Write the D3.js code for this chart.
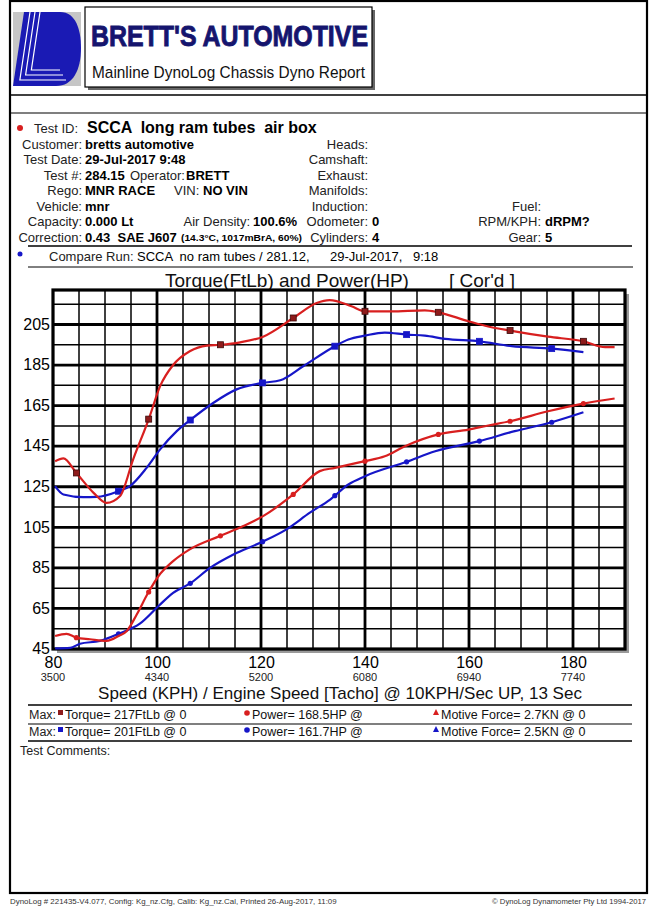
<!DOCTYPE html>
<html>
<head>
<meta charset="utf-8">
<script src="https://cdn.jsdelivr.net/npm/d3@7"></script>
<style>
    body { margin: 0; background: #fff; }
    svg { display: block; font-family: 'Liberation Sans', Arial, sans-serif; }
    text { white-space: pre; }
    .lbl { fill: #222; font-size: 13px; }
    .val { fill: #000; font-size: 13px; font-weight: bold; }
</style>
</head>
<body>
<div id="chart"></div>
<script>
// axis ticks
const kphTicks = [80, 100, 120, 140, 160, 180];
const rpmTicks = ['3500', '4340', '5200', '6080', '6940', '7740'];
const yTicks = [45, 65, 85, 105, 125, 145, 165, 185, 205];

// test run (red) - torque
const runTorqueKph = [80.4, 82, 84.5, 87.8, 90.3, 92.9, 95.4, 98.5, 100.6, 103.1, 106.3, 109.6, 112.2, 116, 120.4, 126.2, 130.7, 133.2, 137.4, 140, 145, 151.5, 154.1, 159.9, 163.7, 167.9, 175.2, 182, 186.2, 188];
const runTorque = [137.6, 139, 131.8, 122, 117, 120.4, 138.4, 159, 174.6, 185, 191.8, 194.6, 195, 196.2, 199, 208.2, 215.6, 217, 214, 211.5, 211.5, 212, 211, 206.6, 204, 202, 199, 196.7, 193.8, 193.8];

// test run (red) - power
const runPowerKph = [80.4, 82.6, 84.5, 87.1, 90.3, 92.6, 94.2, 96.1, 98.3, 100.3, 103.1, 106.3, 112.1, 116.6, 120.4, 126.2, 131.3, 134.2, 140, 143.8, 147.7, 154.1, 159.9, 163.7, 167.9, 175.2, 182, 188];
const runPower = [51.4, 52.5, 50.6, 49.8, 49, 51.4, 53.9, 62, 72.7, 81, 88.3, 94.1, 100.7, 105.6, 110.5, 121.2, 132.7, 134.3, 137.6, 140, 145, 150.8, 153.2, 155.2, 157.3, 162.2, 166, 168.5];

// compare run (blue) - torque
const cmpTorqueKph = [80.4, 82, 85.8, 88.4, 92.6, 94.8, 98, 100.6, 103.8, 106.3, 110.8, 115.3, 120.3, 123.7, 128.1, 134.2, 136.8, 140, 143.8, 148, 151.5, 155.4, 162, 168.2, 175.9, 182];
const cmpTorque = [125.3, 121.2, 119.9, 120, 122.8, 125.3, 134.3, 143.4, 152.4, 157.7, 166.3, 173, 176.2, 177.5, 184.4, 194.3, 197.6, 199.5, 201, 200, 199.5, 197.9, 196.7, 194.3, 193.1, 191.4];

// compare run (blue) - power
const cmpPowerKph = [80.4, 83.3, 85.2, 89, 92.6, 96.7, 100.3, 103.1, 106.3, 110.2, 114.7, 120.3, 124.9, 129.4, 133.3, 136.8, 140, 148, 153.5, 162, 168.8, 175.9, 182];
const cmpPower = [45.3, 45.6, 47.6, 49, 52.5, 57.5, 66.2, 72.7, 77.2, 85, 91.6, 97.9, 104, 112.2, 118.7, 126.1, 130.2, 137.3, 142.5, 147.5, 152.4, 156.8, 161.7];

// marker speeds
const runMarkerKph = [84.5, 98.4, 112.2, 126.2, 140, 154.1, 167.9, 182];
const cmpMarkerKph = [92.6, 106.4, 120.3, 134.2, 148, 162, 175.9];

const W = 654, H = 909;
const red = '#d81f1f', darkRed = '#8e1b1b', blue = '#1616c8';

let svg = d3.select('#chart').append('svg')
    .attr('width', W)
    .attr('height', H);

svg.append('rect').attr('width', W).attr('height', H).attr('fill', '#fff');

function txt(x, y, s, cls, anchor) {
    return svg.append('text')
        .attr('x', x).attr('y', y)
        .attr('class', cls || 'lbl')
        .attr('text-anchor', anchor || 'start')
        .attr('xml:space', 'preserve')
        .text(s);
}
function hline(y, x1, x2, w) {
    svg.append('line')
        .attr('x1', x1).attr('x2', x2).attr('y1', y).attr('y2', y)
        .attr('stroke', '#000').attr('stroke-width', w);
}

// outer frame
svg.append('rect')
    .attr('x', 10).attr('y', 1).attr('width', 637).attr('height', 892)
    .attr('fill', 'none').attr('stroke', '#000').attr('stroke-width', 2.2);
hline(95, 10, 647, 1.6);
hline(113, 10, 647, 1.2);

// logo
svg.append('rect').attr('x', 13).attr('y', 12).attr('width', 68).attr('height', 74).attr('fill', '#c6c6c6');
svg.append('path')
    .attr('d', 'M24,12 L60,12 C76,12 81,30 81,48 C81,70 73,86 56,86 L13,86 Z')
    .attr('fill', '#1a1ab4');
[0, 1, 2].forEach(function(i) {
    let x0 = 30 + i * 5, y1 = 80 - i * 5;
    let x1 = x0 - 0.149 * (y1 - 12);
    svg.append('path')
        .attr('d', 'M' + x0 + ',12 L' + x1 + ',' + y1 + ' L' + (66 - i * 3) + ',' + y1)
        .attr('fill', 'none').attr('stroke', '#fff').attr('stroke-width', 1.2);
});

// title box
svg.append('rect').attr('x', 88).attr('y', 10).attr('width', 287).attr('height', 80).attr('fill', '#666');
svg.append('rect').attr('x', 85).attr('y', 7).attr('width', 287).attr('height', 80)
    .attr('fill', '#fff').attr('stroke', '#000').attr('stroke-width', 1.2);
svg.append('text')
    .attr('x', 91).attr('y', 46)
    .attr('textLength', 277).attr('lengthAdjust', 'spacingAndGlyphs')
    .style('font-size', '30px').style('font-weight', 'bold').style('fill', '#15156e')
    .style('stroke', '#15156e').style('stroke-width', 0.9)
    .text("BRETT'S AUTOMOTIVE");
svg.append('text')
    .attr('x', 92).attr('y', 78)
    .attr('textLength', 273).attr('lengthAdjust', 'spacingAndGlyphs')
    .style('font-size', '17px').style('fill', '#111')
    .text('Mainline DynoLog Chassis Dyno Report');

// test info
svg.append('circle').attr('cx', 20).attr('cy', 128).attr('r', 3).attr('fill', red);
txt(34, 133, 'Test ID:');
txt(87, 133, 'SCCA  long ram tubes  air box', 'val').style('font-size', '16px');

let rowY = function(i) { return 148.5 + i * 15.5; };
let leftLabels = ['Customer:', 'Test Date:', 'Test #:', 'Rego:', 'Vehicle:', 'Capacity:', 'Correction:'];
let leftValues = ['bretts automotive', '29-Jul-2017 9:48', '284.15', 'MNR RACE', 'mnr', '0.000 Lt', '0.43  SAE J607'];
leftLabels.forEach(function(s, i) { txt(82, rowY(i), s, 'lbl', 'end'); });
leftValues.forEach(function(s, i) { txt(85, rowY(i), s, 'val'); });
txt(130, rowY(2), 'Operator:');
txt(186, rowY(2), 'BRETT', 'val');
txt(174, rowY(3), 'VIN:');
txt(203, rowY(3), 'NO VIN', 'val');
txt(250, rowY(5), 'Air Density:', 'lbl', 'end');
txt(253, rowY(5), '100.6%', 'val');
txt(181, rowY(6) - 1, '(14.3\u00B0C, 1017mBrA, 60%)', 'val')
    .attr('textLength', 121).attr('lengthAdjust', 'spacingAndGlyphs')
    .style('font-size', '8.5px');

let midLabels = ['Heads:', 'Camshaft:', 'Exhaust:', 'Manifolds:', 'Induction:', 'Odometer:', 'Cylinders:'];
let midValues = ['', '', '', '', '', '0', '4'];
midLabels.forEach(function(s, i) { txt(368, rowY(i), s, 'lbl', 'end'); });
midValues.forEach(function(s, i) { txt(372, rowY(i), s, 'val'); });

txt(541, rowY(4), 'Fuel:', 'lbl', 'end');
txt(541, rowY(5), 'RPM/KPH:', 'lbl', 'end');
txt(545, rowY(5), 'dRPM?', 'val');
txt(541, rowY(6), 'Gear:', 'lbl', 'end');
txt(545, rowY(6), '5', 'val');

hline(246, 28, 632, 1.6);
svg.append('circle').attr('cx', 20).attr('cy', 254).attr('r', 2.5).attr('fill', blue);
txt(49, 261, 'Compare Run:');
txt(137, 261, 'SCCA  no ram tubes / 281.12,', 'lbl').style('fill', '#000');
txt(330, 261, '29-Jul-2017,', 'lbl').style('fill', '#000');
txt(413, 261, '9:18', 'lbl').style('fill', '#000');
hline(267, 28, 633, 1);

// chart title
svg.append('text').attr('x', 165).attr('y', 287).style('font-size', '19px').style('fill', '#111')
    .text('Torque(FtLb) and Power(HP)');
svg.append('text').attr('x', 449).attr('y', 287).style('font-size', '19px').style('fill', '#111')
    .text("[ Cor'd ]");

// plot
let plot = {left: 53, top: 290, right: 625, bottom: 649};
let x = d3.scaleLinear().domain([80, 190]).range([plot.left, plot.right]);
let y = d3.scaleLinear().domain([45, 222]).range([plot.bottom, plot.top]);

svg.append('rect')
    .attr('x', plot.left + 4).attr('y', plot.top + 4)
    .attr('width', plot.right - plot.left).attr('height', plot.bottom - plot.top)
    .attr('fill', '#9a9a9a');
svg.append('rect')
    .attr('x', plot.left).attr('y', plot.top)
    .attr('width', plot.right - plot.left).attr('height', plot.bottom - plot.top)
    .attr('fill', '#fff');

let grid = svg.append('g');
grid.selectAll('line.v')
    .data(d3.range(85, 190, 5))
    .enter().append('line')
    .attr('x1', function(d) { return x(d); }).attr('x2', function(d) { return x(d); })
    .attr('y1', plot.top).attr('y2', plot.bottom)
    .attr('stroke', '#000')
    .attr('stroke-width', function(d) { return kphTicks.indexOf(d) >= 0 ? 2.8 : 1.5; });
grid.selectAll('line.h')
    .data(d3.range(55, 222, 10))
    .enter().append('line')
    .attr('y1', function(d) { return y(d); }).attr('y2', function(d) { return y(d); })
    .attr('x1', plot.left).attr('x2', plot.right)
    .attr('stroke', '#000')
    .attr('stroke-width', function(d) { return yTicks.indexOf(d) >= 0 ? 2.8 : 1.5; });

svg.append('rect')
    .attr('x', plot.left).attr('y', plot.top)
    .attr('width', plot.right - plot.left).attr('height', plot.bottom - plot.top)
    .attr('fill', 'none').attr('stroke', '#000').attr('stroke-width', 3.2);

// axes labels
let yAxis = svg.append('g')
    .attr('transform', 'translate(' + (plot.left - 3) + ',0)')
    .call(d3.axisLeft(y).tickValues(yTicks).tickSize(0).tickPadding(0));
yAxis.select('.domain').remove();
yAxis.selectAll('text').style('font-size', '16px').style('font-family', 'Liberation Sans, Arial, sans-serif')
    .style('fill', '#000').attr('dy', '0.3em');

let xAxis = svg.append('g')
    .attr('transform', 'translate(0,' + (plot.bottom + 8) + ')')
    .call(d3.axisBottom(x).tickValues(kphTicks).tickSize(0).tickPadding(0));
xAxis.select('.domain').remove();
xAxis.selectAll('text').style('font-size', '16px').style('font-family', 'Liberation Sans, Arial, sans-serif')
    .style('fill', '#000');

svg.selectAll('text.rpm')
    .data(rpmTicks)
    .enter().append('text')
    .attr('class', 'rpm')
    .attr('x', function(d, i) { return x(kphTicks[i]); })
    .attr('y', 681)
    .attr('text-anchor', 'middle')
    .style('font-size', '11px').style('fill', '#222')
    .text(function(d) { return d; });

svg.append('text').attr('x', 340).attr('y', 699).attr('text-anchor', 'middle')
    .style('font-size', '17px').style('fill', '#111')
    .text('Speed (KPH) / Engine Speed [Tacho] @ 10KPH/Sec UP, 13 Sec');

// curves
let line = d3.line()
    .curve(d3.curveMonotoneX)
    .x(function(d) { return x(d[0]); })
    .y(function(d) { return y(d[1]); });

function pairs(ks, vs) { return ks.map(function(k, i) { return [k, vs[i]]; }); }
function valueAt(ks, vs, k) {
    let i = d3.bisectLeft(ks, k);
    if (i <= 0) return vs[0];
    if (i >= ks.length) return vs[vs.length - 1];
    let t = (k - ks[i - 1]) / (ks[i] - ks[i - 1]);
    return vs[i - 1] + t * (vs[i] - vs[i - 1]);
}

let series = [
    {k: cmpPowerKph, v: cmpPower, color: blue, markers: cmpMarkerKph, shape: 'dot', fill: blue},
    {k: cmpTorqueKph, v: cmpTorque, color: blue, markers: cmpMarkerKph, shape: 'square', fill: blue},
    {k: runPowerKph, v: runPower, color: red, markers: runMarkerKph, shape: 'dot', fill: red},
    {k: runTorqueKph, v: runTorque, color: red, markers: runMarkerKph, shape: 'square', fill: darkRed}
];

series.forEach(function(s) {
    svg.append('path')
        .datum(pairs(s.k, s.v))
        .attr('d', line)
        .attr('fill', 'none')
        .attr('stroke', s.color)
        .attr('stroke-width', 2.2);

    let pts = s.markers.map(function(k) { return [k, valueAt(s.k, s.v, k)]; });
    if (s.shape === 'square') {
        svg.selectAll(null).data(pts).enter().append('rect')
            .attr('x', function(d) { return x(d[0]) - 3; })
            .attr('y', function(d) { return y(d[1]) - 3; })
            .attr('width', 6).attr('height', 6)
            .attr('fill', s.fill)
            .attr('stroke', s.color === red ? '#3a0a0a' : blue).attr('stroke-width', 0.8);
    } else {
        svg.selectAll(null).data(pts).enter().append('circle')
            .attr('cx', function(d) { return x(d[0]); })
            .attr('cy', function(d) { return y(d[1]); })
            .attr('r', 2.6)
            .attr('fill', s.fill);
    }
});

// max table
hline(705, 28, 632, 1.6);
hline(724, 28, 632, 1.2);
hline(741, 28, 632, 1.6);
let maxRows = [
    {y: 719, sq: darkRed, dot: red, torque: 'Torque= 217FtLb @ 0', power: 'Power= 168.5HP @', force: 'Motive Force= 2.7KN @ 0'},
    {y: 736, sq: blue, dot: blue, torque: 'Torque= 201FtLb @ 0', power: 'Power= 161.7HP @', force: 'Motive Force= 2.5KN @ 0'}
];
maxRows.forEach(function(r) {
    txt(29, r.y, 'Max:').style('font-size', '12.5px');
    svg.append('rect').attr('x', 58).attr('y', r.y - 9).attr('width', 5).attr('height', 5).attr('fill', r.sq);
    txt(65, r.y, r.torque).style('font-size', '12.5px').style('fill', '#111');
    svg.append('circle').attr('cx', 247).attr('cy', r.y - 6).attr('r', 2.8).attr('fill', r.dot);
    txt(252, r.y, r.power).style('font-size', '12.5px').style('fill', '#111');
    svg.append('path')
        .attr('d', 'M436,' + (r.y - 10) + ' L439,' + (r.y - 4) + ' L433,' + (r.y - 4) + ' Z')
        .attr('fill', r.dot);
    txt(441, r.y, r.force).style('font-size', '12.5px').style('fill', '#111');
});
txt(20, 755, 'Test Comments:').style('font-size', '12.5px');

// footer
svg.append('text').attr('x', 10).attr('y', 904).style('font-size', '7.9px').style('fill', '#333')
    .text('DynoLog # 221435-V4.077, Config: Kg_nz.Cfg, Calib: Kg_nz.Cal, Printed 26-Aug-2017, 11:09');
svg.append('text').attr('x', 646).attr('y', 904).attr('text-anchor', 'end').style('font-size', '7.7px').style('fill', '#333')
    .text('\u00A9 DynoLog Dynamometer Pty Ltd 1994-2017');
</script>
</body>
</html>
